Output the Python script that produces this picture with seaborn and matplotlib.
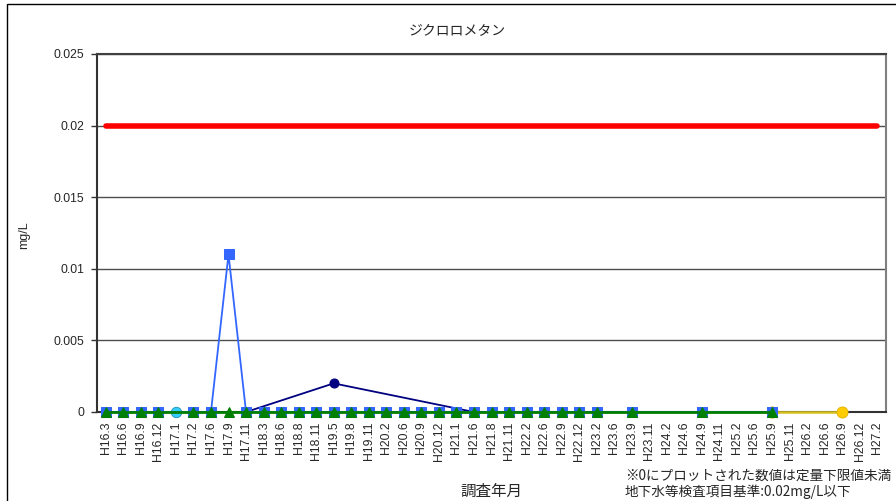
import numpy as np
import pandas as pd
import matplotlib
matplotlib.use("Agg")
import matplotlib.pyplot as plt
from matplotlib.patches import Rectangle
import seaborn as sns

# Survey dates (Heisei year.month)
categories = ["H16.3", "H16.6", "H16.9", "H16.12", "H17.1", "H17.2", "H17.6", "H17.9",
              "H17.11", "H18.3", "H18.6", "H18.8", "H18.11", "H19.5", "H19.8", "H19.11",
              "H20.2", "H20.6", "H20.9", "H20.12", "H21.1", "H21.6", "H21.8", "H21.11",
              "H22.2", "H22.6", "H22.9", "H22.12", "H23.2", "H23.6", "H23.9", "H23.11",
              "H24.2", "H24.6", "H24.9", "H24.11", "H25.2", "H25.6", "H25.9", "H25.11",
              "H26.2", "H26.6", "H26.9", "H26.12", "H27.2"]

# Groundwater standard (mg/L)
standard = 0.02

# Measured values per well (mg/L); dates not listed were not measured
well_blue = {"H16.3": 0, "H16.6": 0, "H16.9": 0, "H16.12": 0, "H17.2": 0, "H17.6": 0,
             "H17.9": 0.011, "H17.11": 0, "H18.3": 0, "H18.6": 0, "H18.8": 0, "H18.11": 0,
             "H19.5": 0, "H19.8": 0, "H19.11": 0, "H20.2": 0, "H20.6": 0, "H20.9": 0,
             "H20.12": 0, "H21.1": 0, "H21.6": 0, "H21.8": 0, "H21.11": 0, "H22.2": 0,
             "H22.6": 0, "H22.9": 0, "H22.12": 0, "H23.2": 0, "H23.9": 0, "H24.9": 0,
             "H25.9": 0}
well_green = {"H16.3": 0, "H16.6": 0, "H16.9": 0, "H16.12": 0, "H17.2": 0, "H17.6": 0,
              "H17.9": 0, "H17.11": 0, "H18.3": 0, "H18.6": 0, "H18.8": 0, "H18.11": 0,
              "H19.5": 0, "H19.8": 0, "H19.11": 0, "H20.2": 0, "H20.6": 0, "H20.9": 0,
              "H20.12": 0, "H21.1": 0, "H21.6": 0, "H21.8": 0, "H21.11": 0, "H22.2": 0,
              "H22.6": 0, "H22.9": 0, "H22.12": 0, "H23.2": 0, "H23.9": 0, "H24.9": 0,
              "H25.9": 0}
well_navy = {"H17.11": 0, "H19.5": 0.002, "H21.6": 0}
well_cyan = {"H17.1": 0}
well_yellow = {"H25.9": 0, "H26.9": 0}

pos = {c: i for i, c in enumerate(categories)}


def frame(values):
    return pd.DataFrame({"x": [pos[k] for k in values], "y": list(values.values())})


W, H = 896, 501
fig = plt.figure(figsize=(W / 100, H / 100), dpi=100)
sns.set_style("white")
plt.rcParams["font.family"] = ["Liberation Sans", "Noto Sans CJK JP", "DejaVu Sans"]
jp = ["Noto Sans CJK JP", "DejaVu Sans"]

ax = fig.add_axes([97 / W, 1 - 412 / H, (886 - 97) / W, (412 - 54) / H])
ax.set_facecolor("white")

# horizontal grid
for v in [0.005, 0.01, 0.015, 0.02, 0.025]:
    ax.axhline(v, color="#4d4d4d", lw=1.0, zorder=1)

common = dict(estimator=None, sort=False, ax=ax, clip_on=False)

# standard line
std_df = pd.DataFrame({"x": list(range(len(categories))), "y": [standard] * len(categories)})
sns.lineplot(data=std_df, x="x", y="y", color="#ff0000", lw=4.0, zorder=8,
             solid_capstyle="round", **common)

sns.lineplot(data=frame(well_yellow), x="x", y="y", color="#d6c21e", lw=1.8,
             marker="o", markersize=8, markerfacecolor="#ffcc00",
             markeredgecolor="#e0b000", markeredgewidth=0.6, zorder=3, **common)
sns.lineplot(data=frame(well_navy), x="x", y="y", color="#000080", lw=1.3,
             marker="o", markersize=6.5, markeredgecolor="#000080", zorder=4, **common)
sns.lineplot(data=frame(well_cyan), x="x", y="y", color="#33ccff", lw=1.2,
             marker="o", markersize=7.5, markerfacecolor="#33ccff",
             markeredgecolor="#1a8fb0", markeredgewidth=0.6, zorder=5, **common)
sns.lineplot(data=frame(well_blue), x="x", y="y", color="#3366ff", lw=1.3,
             marker="s", markersize=6.5, markeredgecolor="#3366ff", zorder=6, **common)
sns.lineplot(data=frame(well_green), x="x", y="y", color="#008000", lw=2.0,
             marker="^", markersize=7.5, markeredgecolor="#008000", zorder=7, **common)

ax.set_xlim(-0.5, len(categories) - 0.5)
ax.set_ylim(0, 0.025)
ax.set_yticks([0, 0.005, 0.01, 0.015, 0.02, 0.025])
ax.set_yticklabels(["0", "0.005", "0.01", "0.015", "0.02", "0.025"])
ax.set_xticks(range(len(categories)))
ax.set_xticklabels(categories, rotation=90)
ax.set_xticks(np.arange(-0.5, len(categories), 1.0), minor=True)
ax.tick_params(axis="x", which="major", length=0, pad=7, labelsize=8.8)
ax.tick_params(axis="x", which="minor", direction="in", length=4, width=0.8, color="black")
ax.tick_params(axis="y", which="major", direction="out", length=4, width=1,
               color="#333333", labelsize=8.8, pad=5, left=True)

for side, col, lw in [("left", "#333333", 1.5), ("bottom", "#333333", 1.5),
                      ("top", "#404040", 1.5), ("right", "#808080", 1.5)]:
    ax.spines[side].set_visible(True)
    ax.spines[side].set_color(col)
    ax.spines[side].set_linewidth(lw)

ax.set_xlabel("")
ax.set_ylabel("")

fig.text(457 / W, 1 - 31 / H, "ジクロロメタン", family=jp, fontsize=10,
         ha="center", va="center")
fig.text(24 / W, 1 - 235 / H, "mg/L", fontsize=9, rotation=90,
         ha="center", va="center")
fig.text(491 / W, 1 - 491 / H, "調査年月", family=jp, fontsize=11.2,
         ha="center", va="center")
fig.text(625 / W, 1 - 476 / H, "※0にプロットされた数値は定量下限値未満", family=jp,
         fontsize=9.8, ha="left", va="center")
fig.text(625 / W, 1 - 492 / H, "地下水等検査項目基準:0.02mg/L以下", family=jp,
         fontsize=9.8, ha="left", va="center")

# chart area border
fig.patches.append(Rectangle((7 / W, -0.05), 1.2, 1 - 4 / H + 0.05,
                             transform=fig.transFigure, fill=False,
                             ec="black", lw=1.0))

fig.savefig("out.png", dpi=100)
